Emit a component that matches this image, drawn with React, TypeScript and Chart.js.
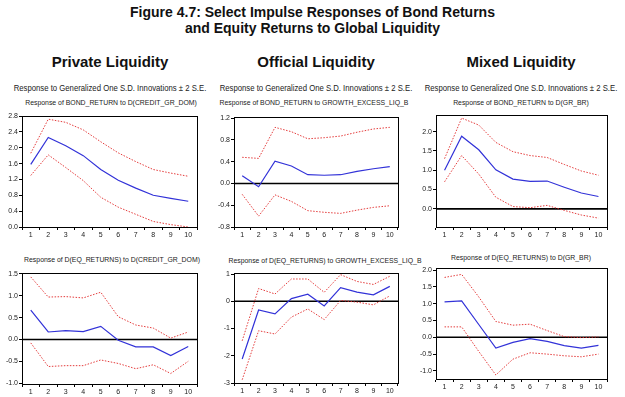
import React, { useEffect, useRef } from "react";
import { Chart, registerables } from "chart.js";
Chart.register(...registerables);

const periods = ["1", "2", "3", "4", "5", "6", "7", "8", "9", "10"];

// Private liquidity: BOND_RETURN to D(CREDIT_GR_DOM)
const p1Resp = [1.58, 2.26, 2.05, 1.8, 1.45, 1.18, 0.98, 0.8, 0.72, 0.65];
const p1Upper = [1.86, 2.72, 2.64, 2.45, 2.15, 1.87, 1.65, 1.45, 1.36, 1.28];
const p1Lower = [1.3, 1.82, 1.5, 1.17, 0.75, 0.5, 0.32, 0.14, 0.06, 0.0];
const p1Ticks = [0, 0.4, 0.8, 1.2, 1.6, 2.0, 2.4, 2.8];

// Official liquidity: BOND_RETURN to GROWTH_EXCESS_LIQ_B
const p2Resp = [0.14, -0.06, 0.41, 0.32, 0.16, 0.15, 0.16, 0.22, 0.27, 0.31];
const p2Upper = [0.48, 0.46, 1.03, 0.95, 0.82, 0.84, 0.87, 0.94, 1.0, 1.03];
const p2Lower = [-0.2, -0.6, -0.21, -0.33, -0.5, -0.53, -0.55, -0.49, -0.44, -0.41];
const p2Ticks = [-0.8, -0.4, 0, 0.4, 0.8, 1.2];

// Mixed liquidity: BOND_RETURN to D(GR_BR)
const p3Resp = [1.0, 1.88, 1.53, 1.01, 0.77, 0.71, 0.72, 0.56, 0.41, 0.32];
const p3Upper = [1.3, 2.35, 2.17, 1.72, 1.48, 1.38, 1.33, 1.15, 0.98, 0.87];
const p3Lower = [0.7, 1.38, 0.9, 0.3, 0.06, 0.03, 0.09, -0.04, -0.16, -0.24];
const p3Ticks = [0, 0.5, 1.0, 1.5, 2.0];

// Private liquidity: D(EQ_RETURNS) to D(CREDIT_GR_DOM)
const p4Resp = [0.67, 0.17, 0.2, 0.18, 0.3, -0.02, -0.17, -0.17, -0.37, -0.16];
const p4Upper = [1.43, 0.97, 0.98, 0.95, 1.08, 0.52, 0.33, 0.26, 0.03, 0.17];
const p4Lower = [-0.08, -0.62, -0.6, -0.6, -0.47, -0.55, -0.67, -0.58, -0.78, -0.5];
const p4Ticks = [-1.0, -0.5, 0, 0.5, 1.0, 1.5];

// Official liquidity: D(EQ_RETURNS) to GROWTH_EXCESS_LIQ_B
const p5Resp = [-2.12, -0.32, -0.46, 0.1, 0.26, -0.17, 0.5, 0.34, 0.24, 0.55];
const p5Upper = [-1.45, 0.47, 0.27, 0.82, 0.82, 0.33, 0.98, 0.73, 0.62, 0.92];
const p5Lower = [-2.88, -1.08, -1.2, -0.58, -0.28, -0.67, 0.03, -0.03, -0.13, 0.2];
const p5Ticks = [-3, -2, -1, 0, 1];

// Mixed liquidity: D(EQ_RETURNS) to D(GR_BR)
const p6Resp = [1.05, 1.08, 0.38, -0.32, -0.15, -0.04, -0.12, -0.25, -0.32, -0.24];
const p6Upper = [1.78, 1.87, 1.2, 0.47, 0.36, 0.39, 0.2, 0.02, -0.01, 0.01];
const p6Lower = [0.31, 0.31, -0.42, -1.12, -0.65, -0.46, -0.5, -0.55, -0.58, -0.5];
const p6Ticks = [-1.0, -0.5, 0, 0.5, 1.0, 1.5, 2.0];

type Panel = {
  resp: number[];
  upper: number[];
  lower: number[];
  ticks: number[];
  min: number;
  max: number;
  dec: number;
  zero: boolean;
  box: { l: number; t: number; r: number; b: number };
};

const panels: Panel[] = [
  { resp: p1Resp, upper: p1Upper, lower: p1Lower, ticks: p1Ticks, min: 0, max: 2.8, dec: 1, zero: false, box: { l: 22, t: 116, r: 197, b: 227 } },
  { resp: p2Resp, upper: p2Upper, lower: p2Lower, ticks: p2Ticks, min: -0.8, max: 1.22, dec: 1, zero: true, box: { l: 234, t: 117, r: 398, b: 227 } },
  { resp: p3Resp, upper: p3Upper, lower: p3Lower, ticks: p3Ticks, min: -0.47, max: 2.43, dec: 1, zero: true, box: { l: 436, t: 115, r: 607, b: 227 } },
  { resp: p4Resp, upper: p4Upper, lower: p4Lower, ticks: p4Ticks, min: -1.02, max: 1.52, dec: 1, zero: true, box: { l: 22, t: 273, r: 197, b: 384 } },
  { resp: p5Resp, upper: p5Upper, lower: p5Lower, ticks: p5Ticks, min: -3.0, max: 1.04, dec: 0, zero: true, box: { l: 234, t: 273, r: 398, b: 383 } },
  { resp: p6Resp, upper: p6Upper, lower: p6Lower, ticks: p6Ticks, min: -1.24, max: 2.06, dec: 1, zero: true, box: { l: 436, t: 268, r: 607, b: 379 } },
];

const subtitles = [
  { text: "Response of BOND_RETURN to D(CREDIT_GR_DOM)", cx: 111, cy: 103 },
  { text: "Response of BOND_RETURN to GROWTH_EXCESS_LIQ_B", cx: 314, cy: 103 },
  { text: "Response of BOND_RETURN to D(GR_BR)", cx: 521, cy: 103 },
  { text: "Response of D(EQ_RETURNS) to D(CREDIT_GR_DOM)", cx: 112, cy: 260 },
  { text: "Response of D(EQ_RETURNS) to GROWTH_EXCESS_LIQ_B", cx: 325, cy: 261 },
  { text: "Response of D(EQ_RETURNS) to D(GR_BR)", cx: 521, cy: 258 },
];

const columns = [
  { name: "Private Liquidity", cx: 110 },
  { name: "Official Liquidity", cx: 316 },
  { name: "Mixed Liquidity", cx: 521 },
];

const YW = 24;
const PT = 6;
const PR = 6;
const XH = 16;

const boxPlugin = {
  id: "boxPlugin",
  beforeDatasetsDraw(chart: any, _a: any, opts: any) {
    const { ctx, chartArea } = chart;
    const ys = chart.scales.y;
    if (opts && opts.zero) {
      const y = ys.getPixelForValue(0);
      ctx.save();
      ctx.strokeStyle = "#000";
      ctx.lineWidth = 1.6;
      ctx.beginPath();
      ctx.moveTo(chartArea.left, y);
      ctx.lineTo(chartArea.right, y);
      ctx.stroke();
      ctx.restore();
    }
  },
  afterDraw(chart: any) {
    const { ctx, chartArea } = chart;
    ctx.save();
    ctx.strokeStyle = "#000";
    ctx.lineWidth = 1;
    ctx.strokeRect(
      Math.round(chartArea.left) + 0.5,
      Math.round(chartArea.top) + 0.5,
      Math.round(chartArea.right - chartArea.left),
      Math.round(chartArea.bottom - chartArea.top)
    );
    ctx.restore();
  },
};

function PanelChart({ p }: { p: Panel }) {
  const ref = useRef<HTMLCanvasElement>(null);
  const w = p.box.r - p.box.l + YW + PR;
  const h = p.box.b - p.box.t + PT + XH;
  useEffect(() => {
    if (!ref.current) return;
    const red = "rgba(225,40,40,0.9)";
    const chart = new Chart(ref.current, {
      type: "line",
      data: {
        labels: periods,
        datasets: [
          { data: p.upper, borderColor: red, borderWidth: 1, borderDash: [1.5, 1.5], pointRadius: 0, tension: 0 },
          { data: p.lower, borderColor: red, borderWidth: 1, borderDash: [1.5, 1.5], pointRadius: 0, tension: 0 },
          { data: p.resp, borderColor: "#3232d8", borderWidth: 1.2, pointRadius: 0, tension: 0 },
        ],
      },
      options: {
        responsive: false,
        animation: false,
        layout: { padding: { top: PT, right: PR, left: 0, bottom: 0 } },
        plugins: {
          legend: { display: false },
          tooltip: { enabled: false },
          boxPlugin: { zero: p.zero },
        } as any,
        scales: {
          x: {
            type: "category",
            offset: true,
            grid: { display: true, offset: true, drawOnChartArea: false, drawTicks: true, tickLength: 3, color: "#000" },
            border: { display: true, color: "#000" },
            ticks: { font: { size: 7, family: "'Liberation Sans', Arial, sans-serif" }, color: "#222", padding: 1, maxRotation: 0, autoSkip: false },
            afterFit: (s: any) => { s.height = XH; },
          },
          y: {
            min: p.min,
            max: p.max,
            grid: { display: true, drawOnChartArea: false, drawTicks: true, tickLength: 3, color: "#000" },
            border: { display: true, color: "#000" },
            ticks: {
              font: { size: 7, family: "'Liberation Sans', Arial, sans-serif" },
              color: "#222",
              padding: 1,
              callback: (v: any) => Number(v).toFixed(p.dec),
            },
            afterBuildTicks: (s: any) => { s.ticks = p.ticks.map((v) => ({ value: v })); },
            afterFit: (s: any) => { s.width = YW; },
          },
        },
      } as any,
      plugins: [boxPlugin],
    });
    return () => chart.destroy();
  }, []);
  return (
    <canvas
      ref={ref}
      width={w}
      height={h}
      style={{ position: "absolute", left: p.box.l - YW, top: p.box.t - PT, width: w, height: h }}
    />
  );
}

export default function App() {
  const font = "'Liberation Sans', Arial, Helvetica, sans-serif";
  return (
    <div style={{ position: "absolute", left: 0, top: 0, width: 625, height: 397, background: "#fff", fontFamily: font, overflow: "hidden" }}>
      <div style={{ position: "absolute", left: 0, top: 4, width: 625, textAlign: "center", fontWeight: "bold", fontSize: 14, lineHeight: "16px", color: "#111" }}>
        Figure 4.7: Select Impulse Responses of Bond Returns
        <br />
        and Equity Returns to Global Liquidity
      </div>
      {columns.map((c, i) => (
        <React.Fragment key={i}>
          <div style={{ position: "absolute", left: c.cx - 120, width: 240, top: 53, textAlign: "center", fontWeight: "bold", fontSize: 15, lineHeight: "18px", color: "#111" }}>
            {c.name}
          </div>
          <div style={{ position: "absolute", left: c.cx - 130, width: 260, top: 82, textAlign: "center", fontSize: 9, lineHeight: "12px", color: "#222", transform: "scaleX(0.86)" }}>
            Response to Generalized One S.D. Innovations ± 2 S.E.
          </div>
        </React.Fragment>
      ))}
      {subtitles.map((s, i) => (
        <div key={i} style={{ position: "absolute", left: s.cx - 120, width: 240, top: s.cy - 5, textAlign: "center", fontSize: 8, lineHeight: "10px", color: "#222", transform: "scaleX(0.86)" }}>
          {s.text}
        </div>
      ))}
      {panels.map((p, i) => (
        <PanelChart key={i} p={p} />
      ))}
    </div>
  );
}
